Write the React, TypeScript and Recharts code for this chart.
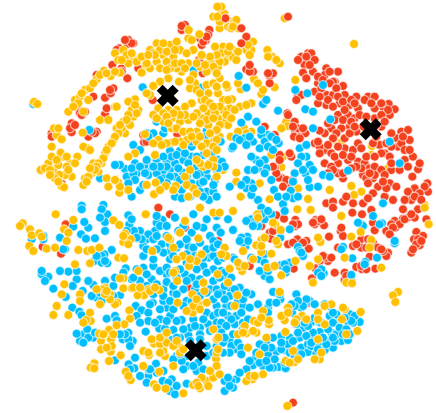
import { Scatter, ScatterChart, XAxis, YAxis, ZAxis } from 'recharts';

type Pair = [number, number];

const orangeNW: Pair[] = [[122,510],[145,490],[160,510],[175,495],[190,470],[210,490],[232,470],[215,530],[195,525],[178,525],[165,535],[185,560],[192,562],[155,470],[155,440],[182,458],[170,405],[185,418],[162,385],[175,385],[248,398],[205,335],[250,335],[225,300],[240,290],[255,270],[270,265],[290,238],[312,212],[332,228],[360,218],[345,160],[370,150],[400,175],[385,190],[380,165],[437,195],[450,150],[470,130],[490,165],[510,135],[530,125],[540,150],[520,170],[500,185],[470,185],[450,205],[425,218],[440,190],[545,215],[530,205],[505,235],[480,245],[460,258],[450,285],[537,245],[565,115],[575,120],[598,103],[566,90],[640,50],[652,20],[652,50],[565,190],[580,150],[630,185],[635,205],[650,165],[640,200],[580,225],[585,250],[570,265],[620,255],[605,300],[625,280],[625,340],[605,355],[575,310],[555,320],[530,330],[505,330],[475,325],[460,345],[490,340],[515,355],[490,365],[515,385],[540,365],[565,360],[590,395],[625,375],[645,340],[650,390],[640,425],[620,430],[590,425],[560,420],[540,425],[515,428],[475,420],[460,430],[435,403],[405,298],[385,305],[395,330],[415,330],[400,350],[370,365],[345,320],[350,320],[300,360],[325,360],[390,375],[350,385],[375,400],[340,420],[325,440],[315,460],[305,490],[280,490],[295,515],[275,520],[255,535],[250,555],[262,445],[250,440],[270,450],[465,465],[405,460],[385,470],[320,535],[355,548],[325,560],[358,578],[385,570],[467,548],[462,583],[527,558],[497,558],[555,530],[580,565],[610,500],[640,480],[650,530],[565,590],[440,280],[102,306],[112,312],[135,505],[150,510],[170,480],[200,500],[225,490],[205,510],[175,545],[150,525],[200,470],[245,280],[235,310],[220,320],[265,300],[280,250],[300,225],[320,220],[345,215],[355,180],[365,180],[395,160],[410,185],[425,170],[460,160],[480,150],[500,155],[525,150],[490,130],[465,165],[445,165],[480,205],[510,205],[525,190],[500,210],[545,190],[365,385],[355,400],[345,410],[335,430],[320,450],[310,475],[295,490],[290,500],[285,510],[265,530],[260,545],[270,505],[405,315],[410,340],[385,345],[380,360],[360,375],[590,270],[600,280],[615,300],[630,310],[640,320],[610,325],[590,340],[620,360],[640,355],[600,370],[580,350],[555,345],[540,345],[520,340],[500,350],[470,355],[505,370],[530,385],[550,395],[570,395],[575,410],[600,410],[630,400],[650,420],[605,440],[550,435],[525,425],[500,430],[485,435],[640,250],[650,260],[600,200],[620,215],[650,220],[590,190],[560,160],[555,205],[570,240],[645,140],[630,170],[605,165],[615,195],[640,440],[650,450],[620,460],[600,490],[590,480],[570,510],[640,500],[625,495],[520,570],[560,555],[590,580],[480,570],[440,555],[360,560],[345,540]];
const redNW: Pair[] = [[122,510],[186,552],[215,370],[215,397],[280,290],[232,323],[315,293],[315,343],[320,325],[332,280],[337,195],[382,235],[415,205],[383,132],[358,145],[545,90],[555,75],[628,90],[617,122],[605,135],[640,180],[597,180],[608,220],[532,403],[432,427],[290,395],[265,410],[155,400],[240,340],[290,225],[365,205],[400,130],[458,300],[430,405],[545,78],[600,115],[610,125],[625,105],[385,120],[395,130],[210,385],[225,375],[155,410],[285,400],[275,395],[340,265],[330,270],[245,345],[255,335],[375,120],[350,150],[365,215],[440,425],[620,110]];
const blueNW: Pair[] = [[100,312],[428,262],[603,263],[581,210],[268,390],[620,392],[585,415],[575,440],[510,452],[540,452],[500,485],[470,480],[450,500],[433,497],[405,490],[375,507],[360,495],[345,495],[410,520],[380,530],[445,525],[420,570],[395,590],[510,510],[490,530],[525,530],[550,518],[575,470],[610,465],[635,465],[550,480],[575,550],[600,550],[620,530],[650,510],[620,575],[640,575],[590,500],[525,490],[490,510],[470,520],[525,590],[545,570],[627,600],[545,595],[490,400],[480,362],[440,400],[570,590],[245,617],[310,615],[300,535],[400,435],[400,520],[395,505],[420,500],[435,520],[405,540],[385,550],[430,555],[500,500],[515,470],[530,465],[480,500],[510,530],[500,550],[480,540],[535,505],[565,490],[590,480],[600,520],[560,530],[630,490],[650,480],[645,540],[610,545],[590,525],[620,510],[640,555],[600,575],[610,590],[520,570],[540,540],[460,500],[650,590],[460,400],[445,410],[470,365],[495,385],[575,425],[615,410],[590,470],[555,460],[490,470],[420,450],[440,480]];

const redNE: Pair[] = [[280,180],[250,170],[270,160],[280,160],[260,195],[255,218],[285,215],[325,205],[360,215],[320,225],[350,245],[300,250],[345,245],[375,258],[240,288],[290,275],[325,285],[345,285],[380,285],[415,290],[450,290],[470,290],[512,312],[530,328],[495,320],[470,325],[395,315],[365,310],[325,315],[300,310],[420,325],[360,345],[390,345],[410,355],[470,355],[515,345],[435,380],[395,380],[370,385],[340,385],[320,400],[305,392],[380,415],[415,395],[490,380],[550,395],[570,390],[535,415],[575,420],[540,440],[485,435],[500,460],[515,470],[585,470],[380,445],[405,450],[360,440],[320,450],[340,460],[320,490],[360,490],[390,480],[420,485],[440,490],[455,505],[435,525],[470,500],[490,510],[520,510],[545,510],[600,508],[490,460],[465,430],[583,530],[628,550],[630,575],[590,565],[570,575],[580,600],[515,550],[480,560],[465,580],[500,590],[525,600],[465,535],[430,505],[375,535],[360,520],[340,500],[325,610],[375,605],[435,610],[155,228],[165,220],[155,250],[85,208],[105,215],[70,85],[85,110],[70,130],[22,55],[140,380],[170,405],[208,340],[230,365],[232,395],[250,400],[262,400],[228,410],[185,465],[220,470],[170,505],[192,535],[182,533],[210,555],[290,430],[305,440],[210,50],[265,170],[290,180],[240,180],[275,195],[300,230],[315,240],[335,215],[335,250],[310,265],[355,265],[265,235],[250,285],[235,300],[305,290],[330,300],[360,290],[375,305],[400,300],[410,310],[380,330],[345,320],[350,360],[375,360],[400,365],[425,345],[440,300],[460,310],[490,310],[510,330],[490,345],[500,365],[475,375],[445,350],[330,370],[355,400],[345,415],[395,400],[410,380],[420,430],[330,435],[350,470],[305,460],[375,465],[400,470],[430,445],[445,470],[470,470],[520,440],[550,430],[560,450],[575,450],[555,410],[520,400],[505,430],[475,410],[470,525],[500,525],[520,490],[560,480],[570,500],[605,490],[445,535],[450,550],[455,520],[415,500],[400,505],[620,560],[605,580],[560,600],[590,590],[610,600],[505,565],[495,545],[535,560],[450,595],[345,510],[330,520],[375,520],[385,590],[345,605],[405,610],[150,220],[95,215],[95,195],[210,345],[240,385],[225,380],[255,385],[245,415],[175,520],[205,540],[195,560],[225,540],[300,425],[165,500],[185,480],[215,460]];
const orangeNE: Pair[] = [[200,55],[408,132],[232,240],[170,262],[130,282],[108,237],[68,268],[28,262],[5,235],[0,170],[15,140],[45,150],[40,170],[85,150],[105,125],[100,150],[148,150],[162,170],[185,190],[55,180],[20,175],[0,200],[42,298],[35,325],[65,320],[15,330],[100,310],[20,360],[30,375],[0,355],[78,385],[100,395],[38,410],[200,375],[205,365],[195,470],[160,465],[55,518],[190,502],[15,510],[55,545],[68,590],[155,598],[240,565],[335,570],[400,558],[430,575],[408,585],[350,420],[370,428],[462,438],[460,465],[510,505],[270,597],[125,550],[0,20],[10,35],[20,42],[42,65],[5,85],[30,80],[60,85],[620,615],[10,160],[30,155],[60,155],[20,185],[5,185],[35,140],[90,135],[95,165],[150,170],[175,180],[25,255],[60,250],[15,300],[30,300],[5,320],[50,330],[85,315],[25,345],[40,355],[5,375],[85,400],[60,395],[10,20],[25,55],[40,85],[15,60],[5,65],[55,60],[45,80],[210,378],[190,385],[135,270],[120,250],[0,280],[5,410]];
const blueNE: Pair[] = [[62,228],[85,263],[232,270],[268,280],[262,328],[285,335],[180,332],[135,312],[145,300],[90,350],[70,368],[115,365],[337,358],[285,385],[150,405],[130,405],[140,425],[105,425],[80,415],[8,425],[42,445],[45,440],[182,430],[245,445],[265,435],[140,480],[115,480],[145,505],[120,505],[90,510],[265,470],[275,495],[262,520],[230,520],[315,525],[335,530],[390,512],[545,490],[100,550],[85,565],[35,560],[168,570],[218,572],[275,562],[120,600],[195,612],[225,595],[495,610],[0,480],[12,485],[315,255],[515,425],[130,390],[160,410],[175,420],[55,415],[65,420],[85,435],[95,410],[125,445],[150,440],[165,450],[100,470],[125,490],[110,510],[140,520],[160,540],[250,470],[240,490],[255,510],[285,510],[270,540],[300,560],[225,545],[180,590],[205,590],[240,590],[100,585],[85,540],[105,565],[70,555],[20,500],[0,505]];

const orangeSW: Pair[] = [[68,52],[60,60],[90,70],[95,88],[118,82],[125,92],[88,120],[100,135],[140,128],[165,125],[235,132],[262,135],[275,132],[298,125],[167,25],[220,42],[192,70],[205,80],[200,105],[340,43],[358,57],[375,83],[370,108],[392,100],[437,25],[355,155],[372,157],[270,172],[225,175],[193,235],[185,265],[240,265],[240,285],[170,300],[160,327],[205,327],[300,295],[330,265],[352,290],[370,217],[360,217],[370,247],[395,247],[315,245],[308,250],[415,195],[445,250],[432,268],[478,252],[413,268],[525,195],[532,225],[567,180],[598,150],[548,150],[595,97],[510,100],[530,160],[520,125],[457,135],[555,45],[600,5],[640,20],[540,80],[388,313],[390,338],[373,355],[350,358],[327,372],[333,400],[303,405],[332,437],[303,430],[272,345],[258,342],[298,383],[362,448],[327,465],[283,472],[272,485],[283,487],[430,480],[430,435],[447,447],[462,413],[490,423],[495,450],[490,395],[520,480],[478,497],[377,497],[392,522],[462,535],[497,548],[550,562],[580,537],[600,547],[620,525],[640,515],[605,515],[540,425],[578,320],[598,295],[533,290],[577,265],[613,255],[653,205],[640,370],[650,400],[648,458],[620,290],[370,90],[385,115],[400,245],[420,245],[450,255],[465,245],[520,200],[590,165],[570,160],[605,145],[505,95],[490,435],[480,415],[480,440],[500,410],[455,400],[445,440],[520,420],[540,440],[580,300],[590,280],[600,310],[560,315],[345,295],[330,280],[315,265],[320,255],[290,250],[335,420],[320,425],[340,385],[310,385],[250,350],[270,320],[610,230],[655,395],[650,440],[625,540],[590,530],[470,545],[385,510],[595,540],[650,480],[630,495],[550,430],[530,405],[480,395],[500,380]];
const blueSW: Pair[] = [[245,10],[322,25],[305,10],[315,48],[300,35],[315,75],[265,65],[253,48],[220,62],[243,85],[258,98],[285,97],[130,100],[95,100],[180,95],[195,130],[385,28],[388,55],[420,75],[402,75],[440,100],[487,42],[470,50],[525,35],[465,75],[445,85],[485,115],[430,120],[430,150],[460,100],[335,132],[313,145],[283,165],[305,170],[322,172],[377,187],[430,185],[460,180],[510,135],[510,160],[500,205],[480,195],[455,220],[420,225],[370,200],[340,240],[280,237],[265,225],[230,220],[230,195],[205,197],[180,195],[145,212],[125,205],[135,225],[160,248],[218,240],[197,273],[248,255],[290,275],[318,275],[360,268],[345,290],[217,305],[238,317],[245,328],[320,338],[345,330],[350,343],[407,300],[425,313],[445,320],[445,345],[458,290],[500,305],[490,285],[520,260],[490,250],[500,228],[555,205],[530,215],[575,215],[600,220],[625,155],[640,190],[640,225],[585,250],[550,250],[510,330],[480,340],[478,368],[520,372],[495,368],[437,377],[385,380],[368,400],[398,405],[280,395],[250,385],[240,405],[230,383],[262,370],[345,463],[386,475],[403,487],[445,510],[468,473],[515,402],[565,387],[600,365],[545,342],[560,285],[620,320],[625,355],[595,470],[530,450],[560,480],[590,495],[440,530],[515,520],[488,525],[510,555],[525,565],[560,533],[650,300],[640,330],[600,415],[565,120],[575,80],[530,125],[630,90],[610,65],[570,150],[580,25],[650,65],[470,30],[480,60],[500,90],[510,115],[490,140],[520,150],[540,115],[560,100],[580,125],[620,130],[640,150],[610,180],[590,190],[560,170],[540,190],[460,160],[440,205],[410,190],[395,220],[430,260],[460,265],[490,270],[510,285],[530,265],[550,300],[575,285],[600,270],[630,250],[640,280],[610,340],[580,340],[570,365],[550,370],[530,345],[500,345],[465,350],[410,330],[420,350],[450,295],[480,310],[520,310],[650,350],[630,375],[620,260],[560,225],[620,200],[590,235],[650,250],[520,240],[470,235],[440,240],[400,215],[345,215],[315,225],[300,260],[275,270],[305,285],[340,270],[385,400],[375,385],[265,395],[250,410],[285,380],[360,385],[390,420],[405,455],[390,490],[420,510],[445,490],[470,500],[490,495],[505,530],[450,490],[530,540],[580,480],[610,490],[560,450],[545,465],[520,460],[550,490],[590,440],[620,450],[620,420],[640,440],[650,420],[540,395],[570,405],[530,395],[600,385],[600,400],[585,360],[540,445],[425,100],[410,95],[395,40],[470,90],[440,130],[470,130],[500,60],[380,75],[305,150],[290,150],[315,165],[130,90],[125,195],[190,130],[500,185],[510,200],[590,60],[620,40],[650,30],[640,105],[600,110],[550,60],[535,75],[560,145],[585,150],[610,155],[640,125]];
const redSW: Pair[] = [[197,55],[183,143],[475,5],[510,25],[555,65],[650,150],[128,122],[565,245]];

const blueSE: Pair[] = [[30,40],[45,72],[8,80],[88,92],[70,95],[82,122],[100,40],[120,60],[140,40],[160,25],[200,15],[215,70],[187,95],[240,123],[255,150],[215,170],[125,160],[100,155],[45,155],[30,215],[10,195],[35,245],[65,245],[12,260],[35,270],[60,285],[25,300],[0,320],[30,330],[55,330],[75,300],[100,265],[120,295],[95,305],[150,305],[155,290],[165,258],[187,280],[235,265],[275,285],[250,305],[222,320],[335,330],[395,325],[425,348],[390,348],[365,340],[280,348],[255,365],[235,355],[340,380],[305,378],[290,395],[315,410],[370,405],[390,402],[345,425],[245,395],[215,395],[190,390],[145,405],[175,437],[200,432],[250,425],[270,438],[295,443],[320,432],[335,405],[125,415],[110,460],[155,462],[135,480],[105,478],[182,483],[203,487],[165,485],[55,430],[35,405],[15,410],[0,440],[55,520],[40,525],[20,525],[20,555],[45,545],[140,145],[140,210],[155,220],[203,200],[317,202],[400,207],[375,123],[403,157],[442,168],[477,155],[530,112],[492,52],[430,55],[465,30],[310,190],[188,178],[10,350],[50,355],[45,385],[0,370],[75,350],[0,115],[130,5],[15,320],[40,340],[25,360],[10,380],[0,395],[20,395],[40,420],[60,410],[70,425],[35,440],[15,440],[75,280],[85,260],[55,260],[20,280],[50,250],[20,240],[0,265],[40,300],[70,320],[90,340],[75,370],[70,445],[115,440],[125,470],[95,465],[85,490],[65,500],[30,515],[35,540],[150,445],[160,425],[190,430],[210,415],[225,405],[230,435],[250,445],[270,415],[280,420],[300,410],[325,415],[350,405],[355,385],[330,370],[305,350],[290,335],[310,350],[345,350],[365,365],[385,370],[405,350],[410,330],[400,345],[380,335],[355,325],[335,300],[345,320],[320,295],[290,295],[265,280],[255,300],[240,285],[230,300],[220,295],[185,265],[175,290],[150,320],[165,395],[190,410],[140,425],[215,440],[170,460],[200,470],[230,450],[155,485],[145,465],[285,380],[270,360],[260,350],[240,380],[265,390],[280,410],[300,430],[315,395],[345,395],[375,385],[395,385],[115,40],[85,45],[105,60],[130,25],[150,15],[75,110],[90,105],[65,105],[50,160],[140,170],[125,195],[150,195],[200,175],[205,190],[245,135],[250,140],[0,165],[15,155],[20,200],[40,215],[5,215],[435,60],[420,50],[485,55],[530,105],[370,130],[440,175],[300,200],[310,210]];
const orangeSE: Pair[] = [[45,15],[5,20],[118,25],[238,10],[278,12],[172,55],[188,72],[130,102],[115,118],[180,115],[130,138],[160,143],[75,135],[20,125],[25,150],[35,188],[72,195],[65,182],[105,160],[165,182],[148,185],[190,208],[232,165],[275,180],[300,160],[307,108],[300,95],[370,30],[428,78],[400,92],[460,102],[455,125],[380,155],[490,185],[632,55],[30,230],[58,268],[50,300],[135,315],[108,345],[153,355],[152,343],[115,380],[85,382],[60,385],[90,425],[0,430],[225,435],[230,468],[203,465],[300,320],[252,330],[210,305],[200,343],[190,330],[235,340],[340,295],[428,318],[380,310],[372,340],[418,375],[385,385],[320,355],[202,378],[305,460],[135,505],[103,520],[5,505],[85,525],[540,258],[525,268],[532,288],[208,600],[620,5],[285,230],[385,230],[402,232],[185,258],[125,445],[300,400],[120,35],[165,50],[10,145],[60,170],[80,180],[170,180],[130,120],[140,95],[175,105],[120,350],[130,335],[80,360],[75,380],[105,375],[265,340],[300,340],[210,320],[320,300],[375,305],[230,350],[310,440],[290,460],[215,470],[240,460],[95,510],[110,510],[145,395]];
const redSE: Pair[] = [[225,590],[95,180],[175,28],[198,38],[232,42],[232,60],[293,42],[318,58],[290,55],[155,80],[158,98],[130,60],[210,115],[238,100],[265,105],[272,128],[333,92],[368,75],[403,20],[432,25],[460,12],[465,50],[470,73],[430,100],[405,120],[430,125],[360,125],[375,90],[487,128],[465,110],[510,140],[455,152],[505,150],[330,165],[305,165],[325,155],[292,187],[282,217],[227,188],[415,183],[432,190],[380,200],[380,222],[400,225],[350,200],[472,188],[445,190],[532,65],[505,75],[530,45],[555,38],[570,35],[555,10],[600,10],[595,78],[605,118],[588,100],[580,140],[615,90],[590,35],[625,40],[0,105],[345,5],[175,260],[272,290],[480,125],[495,135],[225,110],[255,110],[300,45],[310,40],[285,50],[165,75],[240,55],[225,55],[490,130],[315,150],[340,155],[450,100],[415,115],[445,125],[370,65],[390,215],[385,210],[430,180],[520,55],[545,55],[560,40],[580,25],[600,100],[595,115],[585,130],[610,105],[525,65],[515,85]];

const centroids: Pair[] = [[503,287],[1112,388],[587,1051]];

const EAST = 654;
const SOUTH = 618;

const toPoints = (pairs: Pair[], originX = 0, originY = 0) =>
  pairs.map(([x, y]) => ({ x: x + originX, y: y + originY }));

const BLUE = '#00bfff';
const ORANGE = '#ffc000';
const RED = '#f4411e';
const HALO = { stroke: '#fff', strokeOpacity: 0.6, strokeWidth: 1.2 };

const redBack = [...toPoints(redNW), ...toPoints(redSW, 0, SOUTH)];
const orangeBack = toPoints(orangeNE, EAST);
const redFront = [...toPoints(redNE, EAST), ...toPoints(redSE, EAST, SOUTH)];
const blueAll = [
  ...toPoints(blueNW),
  ...toPoints(blueNE, EAST),
  ...toPoints(blueSW, 0, SOUTH),
  ...toPoints(blueSE, EAST, SOUTH),
];
const orangeFront = [
  ...toPoints(orangeNW),
  ...toPoints(orangeSW, 0, SOUTH),
  ...toPoints(orangeSE, EAST, SOUTH),
];

function CrossMark({ cx, cy }: { cx?: number; cy?: number }) {
  return (
    <g transform={`translate(${cx},${cy})`} stroke="#000" strokeWidth={8.5}>
      <line x1={-8} y1={-8} x2={8} y2={8} />
      <line x1={-8} y1={8} x2={8} y2={-8} />
    </g>
  );
}

export default function App() {
  return (
    <div style={{ position: 'absolute', left: 0, top: 0 }}>
      <ScatterChart width={436} height={413} margin={{ top: 0, right: 0, bottom: 0, left: 0 }}>
        <XAxis type="number" dataKey="x" domain={[0, 1308]} hide />
        <YAxis type="number" dataKey="y" domain={[0, 1239]} reversed hide />
        <ZAxis range={[56, 56]} />
        <Scatter data={redBack} fill={RED} {...HALO} isAnimationActive={false} />
        <Scatter data={orangeBack} fill={ORANGE} {...HALO} isAnimationActive={false} />
        <Scatter data={redFront} fill={RED} {...HALO} isAnimationActive={false} />
        <Scatter data={blueAll} fill={BLUE} {...HALO} isAnimationActive={false} />
        <Scatter data={orangeFront} fill={ORANGE} {...HALO} isAnimationActive={false} />
        <Scatter data={toPoints(centroids)} shape={<CrossMark />} isAnimationActive={false} />
      </ScatterChart>
    </div>
  );
}
